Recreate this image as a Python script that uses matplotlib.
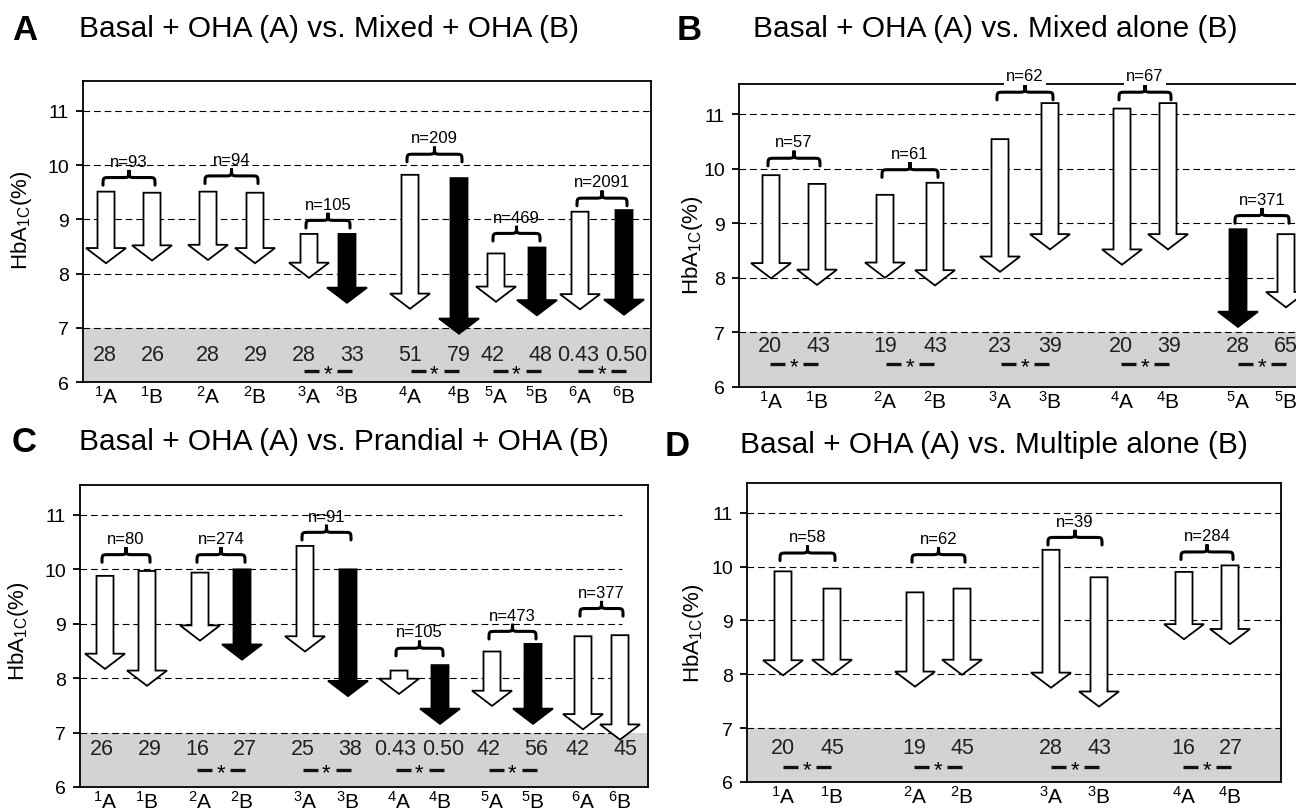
import numpy as np
import matplotlib
matplotlib.use("Agg")
import matplotlib.pyplot as plt
from matplotlib.patches import FancyArrow, PathPatch
from matplotlib.path import Path

plt.rcParams['font.family'] = ['Liberation Sans', 'DejaVu Sans']
plt.rcParams['mathtext.default'] = 'regular'

# ---- data (HbA1c %, start -> end) ----
# A: Basal + OHA vs Mixed + OHA
A_start = [9.51, 9.49, 9.51, 9.49, 8.73, 8.73, 9.82, 9.76, 8.37, 8.48, 9.14, 9.17]
A_end = [8.19, 8.24, 8.25, 8.19, 7.92, 7.46, 7.35, 6.89, 7.48, 7.23, 7.34, 7.24]
A_black = [0, 0, 0, 0, 0, 1, 0, 1, 0, 1, 0, 1]
A_pct = ['28', '26', '28', '29', '28', '33', '51', '79', '42', '48', '0.43', '0.50']
A_n = [93, 94, 105, 209, 469, 2091]
A_sig = [0, 0, 1, 1, 1, 1]
A_brace = [9.63, 9.66, 8.84, 10.06, 8.60, 9.25]

# B: Basal + OHA vs Mixed alone
B_start = [9.88, 9.72, 9.52, 9.74, 10.54, 11.20, 11.10, 11.20, 8.89, 8.80]
B_end = [7.99, 7.87, 8.00, 7.86, 8.11, 8.52, 8.24, 8.52, 7.10, 7.46]
B_black = [0, 0, 0, 0, 0, 0, 0, 0, 1, 0]
B_pct = ['20', '43', '19', '43', '23', '39', '20', '39', '28', '65']
B_n = [57, 61, 62, 67, 371]
B_sig = [1, 1, 1, 1, 1]
B_brace = [10.05, 9.84, 11.26, 11.26, 9.00]

# C: Basal + OHA vs Prandial + OHA
C_start = [9.88, 9.97, 9.94, 10.00, 10.43, 10.00, 8.14, 8.24, 8.49, 8.63, 8.77, 8.79]
C_end = [8.17, 7.86, 8.69, 8.34, 8.49, 7.67, 7.71, 7.16, 7.49, 7.16, 7.06, 6.87]
C_black = [0, 0, 0, 1, 0, 1, 0, 1, 0, 1, 0, 0]
C_pct = ['26', '29', '16', '27', '25', '38', '0.43', '0.50', '42', '56', '42', '45']
C_n = [80, 274, 91, 105, 473, 377]
C_sig = [0, 1, 1, 1, 1, 0]
C_brace = [10.13, 10.13, 10.54, 8.41, 8.72, 9.14]

# D: Basal + OHA vs Multiple alone
D_start = [9.91, 9.59, 9.52, 9.59, 10.31, 9.80, 9.90, 10.02]
D_end = [7.98, 7.99, 7.77, 7.99, 7.75, 7.40, 8.65, 8.56]
D_black = [0, 0, 0, 0, 0, 0, 0, 0]
D_pct = ['20', '45', '19', '45', '28', '43', '16', '27']
D_n = [58, 62, 39, 284]
D_sig = [1, 1, 1, 1]
D_brace = [10.11, 10.08, 10.40, 10.13]

# layout (pixels): axes boxes and arrow x positions inside each box
W, H = 1296, 812
panels = [
    dict(letter='A', title='Basal + OHA (A) vs. Mixed + OHA (B)', box=(83, 82, 651, 383),
         xpos=[23, 69, 125, 172, 226, 264, 327, 376, 413, 454, 497, 541],
         start=A_start, end=A_end, black=A_black, pct=A_pct, n=A_n, sig=A_sig, brace=A_brace,
         pct_y=6.5, sig_y=6.2, grid_x=1.0, ttl=(12, 79, 30), lab=(-0.086, 0.54)),
    dict(letter='B', title='Basal + OHA (A) vs. Mixed alone (B)', box=(739, 85, 1302, 388),
         xpos=[32, 78, 146, 196, 261, 311, 383, 429, 499, 547],
         start=B_start, end=B_end, black=B_black, pct=B_pct, n=B_n, sig=B_sig, brace=B_brace,
         pct_y=6.76, sig_y=6.42, grid_x=1.0, ttl=(677, 753, 30), lab=(-0.06, 0.47)),
    dict(letter='C', title='Basal + OHA (A) vs. Prandial + OHA (B)', box=(80, 486, 648, 788),
         xpos=[25, 67, 120, 162, 225, 268, 319, 360, 412, 453, 503, 540],
         start=C_start, end=C_end, black=C_black, pct=C_pct, n=C_n, sig=C_sig, brace=C_brace,
         pct_y=6.7, sig_y=6.31, grid_x=0.955, ttl=(12, 79, 443), lab=(-0.086, 0.52)),
    dict(letter='D', title='Basal + OHA (A) vs. Multiple alone (B)', box=(747, 484, 1281, 783),
         xpos=[36, 85, 168, 215, 304, 352, 437, 483],
         start=D_start, end=D_end, black=D_black, pct=D_pct, n=D_n, sig=D_sig, brace=D_brace,
         pct_y=6.64, sig_y=6.28, grid_x=1.0, ttl=(665, 740, 446), lab=(-0.077, 0.5)),
]


def draw_brace(ax, x0, x1, y, h=0.28, r=7):
    xm = (x0 + x1) / 2
    ym = y + h / 2
    verts = [(x0, y), (x0, ym), (x0, ym), (x0 + r, ym),
             (xm - r, ym),
             (xm, ym), (xm, ym), (xm, y + h),
             (xm, ym), (xm, ym), (xm + r, ym),
             (x1 - r, ym),
             (x1, ym), (x1, ym), (x1, y)]
    codes = [Path.MOVETO, Path.CURVE4, Path.CURVE4, Path.CURVE4,
             Path.LINETO,
             Path.CURVE4, Path.CURVE4, Path.CURVE4,
             Path.CURVE4, Path.CURVE4, Path.CURVE4,
             Path.LINETO,
             Path.CURVE4, Path.CURVE4, Path.CURVE4]
    ax.add_patch(PathPatch(Path(verts, codes), fill=False, lw=2.2, ec='black',
                           zorder=4, clip_on=False, capstyle='round'))


fig = plt.figure(figsize=(W / 100, H / 100), dpi=100)

for p in panels:
    l, t, r, b = p['box']
    ax = fig.add_axes([l / W, 1 - b / H, (r - l) / W, (b - t) / H])
    width = r - l
    ax.set_xlim(0, width)
    ax.set_ylim(6, 11.55)

    ax.axhspan(6, 7, color='#d3d3d3', zorder=0, lw=0)
    for g in [7, 8, 9, 10, 11]:
        ax.axhline(g, xmax=p['grid_x'], color='black', ls=(0, (6, 3.5)), lw=0.8, zorder=1)

    xs = p['xpos']
    for i, x in enumerate(xs):
        y0, y1 = p['start'][i], p['end'][i]
        fc = 'black' if p['black'][i] else 'white'
        ax.add_patch(FancyArrow(x, y0, 0, y1 - y0, width=17, head_width=40,
                                head_length=0.28, length_includes_head=True,
                                fc=fc, ec='black', lw=1.3, zorder=3, clip_on=False))

    for k in range(len(p['n'])):
        xa, xb = xs[2 * k], xs[2 * k + 1]
        cx = (xa + xb) / 2
        half = max((xb - xa) / 2, 24)
        ax.text(cx - half, p['pct_y'], p['pct'][2 * k], ha='center', va='center',
                fontsize=15.5, color='#222222', zorder=5)
        ax.text(cx + half, p['pct_y'], p['pct'][2 * k + 1], ha='center', va='center',
                fontsize=15.5, color='#222222', zorder=5)

        yb = p['brace'][k]
        draw_brace(ax, xa - 3, xb + 3, yb)
        ly = yb + 0.44
        kw = {}
        if ly > 11.4:
            kw['bbox'] = dict(fc='white', ec='none', pad=1.5)
        ax.text(cx, ly, 'n=%d' % p['n'][k], ha='center', va='center',
                fontsize=12, zorder=6, clip_on=False, **kw)
        if p['sig'][k]:
            sy = p['sig_y']
            ax.plot([cx - 24, cx - 9], [sy, sy], color='#111111', lw=2.4,
                    solid_capstyle='butt', zorder=5)
            ax.plot([cx + 9, cx + 24], [sy, sy], color='#111111', lw=2.4,
                    solid_capstyle='butt', zorder=5)
            ax.text(cx, sy - 0.05, '*', ha='center', va='center',
                    fontsize=16, zorder=5)

    labels = []
    for k in range(len(xs) // 2):
        labels += ['$^{%d}$A' % (k + 1), '$^{%d}$B' % (k + 1)]
    ax.set_xticks(xs)
    ax.set_xticklabels(labels, fontsize=15)
    ax.tick_params(axis='x', length=0, pad=2)
    ax.set_yticks([6, 7, 8, 9, 10, 11])
    ax.tick_params(axis='y', labelsize=14, length=5, width=1.3, direction='out', pad=5)
    for s in ax.spines.values():
        s.set_linewidth(1.3)
    ax.set_ylabel('HbA$_{1C}$(%)', fontsize=16)
    ax.yaxis.set_label_coords(*p['lab'])

    lx, tx, ty = p['ttl']
    fig.text(lx / W, 1 - ty / H, p['letter'], fontsize=25, fontweight='bold',
             va='center', ha='left')
    fig.text(tx / W, 1 - (ty - 1) / H, p['title'], fontsize=21.5, va='center', ha='left')

fig.savefig('out.png', dpi=100)
